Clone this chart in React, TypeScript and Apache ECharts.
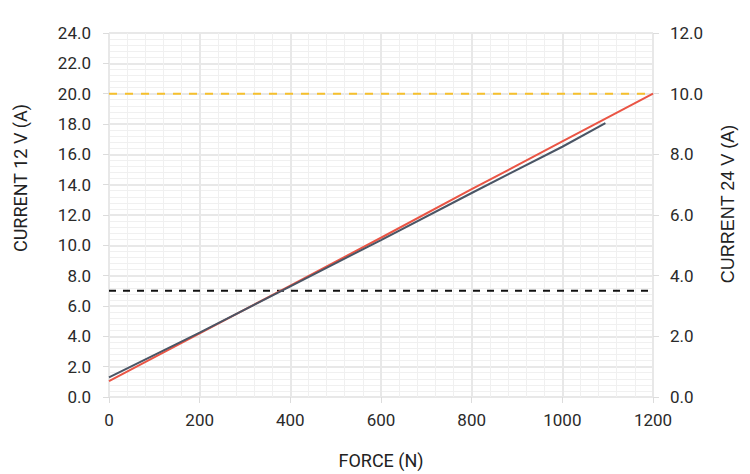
import React, { useEffect, useRef } from "react";
import * as echarts from "echarts";

// Force axis (N)
const forceMax = 1200;
const forceStep = 200;

// Current draw at 12 V (left axis, A)
const current12Force = [0, 200, 400, 600, 800, 1000, 1200];
const current12Values = [1.05, 4.2, 7.35, 10.5, 13.7, 16.85, 20.0];

// Current draw at 24 V (plotted on the left scale, A)
const current24Force = [0, 200, 400, 600, 800, 1000, 1095];
const current24Values = [1.3, 4.25, 7.3, 10.35, 13.45, 16.5, 18.05];

// Reference limits
const limitHigh = 20; // yellow dashed
const limitLow = 7; // black dashed

const leftMax = 24;
const rightMax = 12;

const FONT = "Roboto";

export default function App() {
  const ref = useRef<HTMLDivElement>(null);

  useEffect(() => {
    if (!ref.current) return;
    const chart = echarts.init(ref.current, undefined, { renderer: "svg" });

    const labelStyle = { color: "#2a2a2a", fontSize: 17, fontFamily: FONT };
    const majorLine = { show: true, lineStyle: { color: "#e8e8e8", width: 2 } };
    const minorLine = { show: true, lineStyle: { color: "#f0f0f0", width: 1 } };
    const tick = { show: true, length: 6, lineStyle: { color: "#dcdcdc", width: 1 } };

    chart.setOption({
      animation: false,
      backgroundColor: "#fff",
      grid: { left: 109, right: 97, top: 33, bottom: 75, containLabel: false },
      xAxis: {
        type: "value",
        min: 0,
        max: forceMax,
        interval: forceStep,
        name: "FORCE (N)",
        nameLocation: "middle",
        nameGap: 54,
        nameTextStyle: { color: "#222", fontSize: 18, fontFamily: FONT },
        axisLine: { show: false },
        axisTick: tick,
        axisLabel: { ...labelStyle, margin: 14, formatter: (v: number) => String(v) },
        splitLine: majorLine,
        minorTick: { show: false, splitNumber: 5 },
        minorSplitLine: minorLine,
      },
      yAxis: [
        {
          type: "value",
          min: 0,
          max: leftMax,
          interval: 2,
          position: "left",
          axisLine: { show: false },
          axisTick: tick,
          axisLabel: {
            ...labelStyle,
            margin: 18,
            formatter: (v: number) => v.toFixed(1),
          },
          splitLine: majorLine,
          minorTick: { show: false, splitNumber: 5 },
          minorSplitLine: minorLine,
        },
        {
          type: "value",
          min: 0,
          max: rightMax,
          interval: 2,
          position: "right",
          axisLine: { show: false },
          axisTick: tick,
          axisLabel: {
            ...labelStyle,
            margin: 17,
            formatter: (v: number) => v.toFixed(1),
          },
          splitLine: { show: false },
        },
      ],
      graphic: [
        {
          type: "text",
          x: 20,
          y: 178,
          rotation: Math.PI / 2,
          style: {
            text: "CURRENT 12 V (A)",
            fill: "#222",
            font: `18px ${FONT}`,
            align: "center",
            verticalAlign: "middle",
          },
        },
        {
          type: "text",
          x: 728,
          y: 204,
          rotation: Math.PI / 2,
          style: {
            text: "CURRENT 24 V (A)",
            fill: "#222",
            font: "18px 'Liberation Sans'",
            align: "center",
            verticalAlign: "middle",
          },
        },
      ],
      series: [
        {
          type: "line",
          name: "limit high",
          data: [
            [0, limitHigh],
            [forceMax, limitHigh],
          ],
          symbol: "none",
          lineStyle: { color: "#f6c02c", width: 2, type: [8, 8] },
          z: 1,
        },
        {
          type: "line",
          name: "limit low",
          data: [
            [0, limitLow],
            [forceMax, limitLow],
          ],
          symbol: "none",
          lineStyle: { color: "#111", width: 2, type: [7, 7] },
          z: 1,
        },
        {
          type: "line",
          name: "12 V",
          data: current12Force.map((f, i) => [f, current12Values[i]]),
          symbol: "none",
          lineStyle: { color: "#ea5545", width: 2 },
          z: 2,
        },
        {
          type: "line",
          name: "24 V",
          data: current24Force.map((f, i) => [f, current24Values[i]]),
          symbol: "none",
          lineStyle: { color: "#4a5565", width: 2 },
          z: 3,
        },
      ],
    });

    return () => chart.dispose();
  }, []);

  return (
    <div
      ref={ref}
      style={{ position: "fixed", left: 0, top: 0, width: 750, height: 474 }}
    />
  );
}
